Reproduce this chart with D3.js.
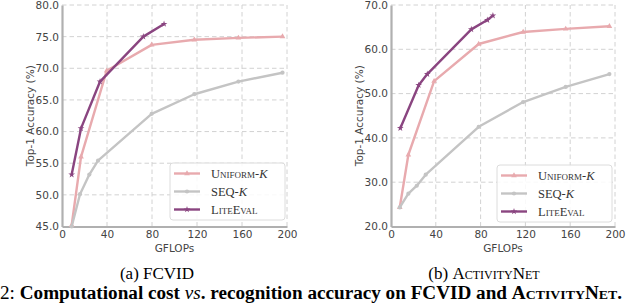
<!DOCTYPE html>
<html>
<head>
<meta charset="utf-8">
<script src="https://cdn.jsdelivr.net/npm/d3@7"></script>
<style>
  body { margin: 0; background: #fff; }
  svg { display: block; }
  .tick text { font-family: "DejaVu Sans", sans-serif; font-size: 10.5px; fill: #444; }
</style>
</head>
<body>
<div id="chart"></div>
<script>
// ---- data ----
const seriesNames = ["Uniform-K", "SEQ-K", "LiteEval"];

// FCVID
const fcvidUniformX = [8.6, 16.9, 39.7, 79.7, 117.6, 156.8, 196];
const fcvidUniformY = [45.2, 56.0, 69.6, 73.7, 74.5, 74.8, 75.0];
const fcvidSeqX = [8.6, 16, 24.3, 32, 79.7, 117.6, 156.8, 196];
const fcvidSeqY = [45.0, 50.1, 53.2, 55.4, 62.8, 65.9, 67.9, 69.3];
const fcvidLiteX = [8.6, 16.9, 33.8, 72.3, 90.7];
const fcvidLiteY = [53.2, 60.5, 67.9, 75.0, 77.0];

// ActivityNet
const anetUniformX = [7.8, 15.5, 38.5, 78.3, 118, 156, 195];
const anetUniformY = [24.3, 36.2, 52.8, 61.2, 63.9, 64.6, 65.2];
const anetSeqX = [7.8, 15.5, 23, 31, 78.3, 118, 156, 195];
const anetSeqY = [24.3, 27.4, 29.2, 31.7, 42.5, 48.1, 51.5, 54.4];
const anetLiteX = [8.3, 24.7, 32.4, 71.7, 86, 91];
const anetLiteY = [42.2, 51.9, 54.4, 64.5, 66.6, 67.6];

const xTicks = [0, 40, 80, 120, 160, 200];
const fcvidYTicks = [45, 50, 55, 60, 65, 70, 75, 80];
const anetYTicks = [20, 30, 40, 50, 60, 70];

const colors = { "Uniform-K": "#e8aaae", "SEQ-K": "#c4c4c4", "LiteEval": "#8a4580" };
const symbols = { "Uniform-K": d3.symbolTriangle, "SEQ-K": d3.symbolCircle, "LiteEval": d3.symbolStar };

const zip = (xs, ys) => xs.map((x, i) => ({ x: x, y: ys[i] }));

const svg = d3.select("#chart").append("svg")
    .attr("width", 640)
    .attr("height", 304);

function drawPanel(cfg) {
    const x = d3.scaleLinear().domain([0, 200]).range([cfg.left, cfg.right]);
    const y = d3.scaleLinear().domain(cfg.yDomain).range([226.5, 5]);
    const g = svg.append("g");

    // grid
    g.append("g").selectAll("line").data(xTicks.slice(1)).enter().append("line")
        .attr("x1", d => x(d)).attr("x2", d => x(d))
        .attr("y1", y.range()[0]).attr("y2", y.range()[1])
        .attr("stroke", "#d2d2d2").attr("stroke-dasharray", "4.5,3");
    g.append("g").selectAll("line").data(cfg.yTicks.slice(1)).enter().append("line")
        .attr("x1", x(0)).attr("x2", x(200))
        .attr("y1", d => y(d)).attr("y2", d => y(d))
        .attr("stroke", "#d2d2d2").attr("stroke-dasharray", "4.5,3");

    // axes
    const xAxis = g.append("g")
        .attr("transform", `translate(0,${y.range()[0]})`)
        .call(d3.axisBottom(x).tickValues(xTicks).tickSize(0).tickPadding(4));
    const yAxis = g.append("g")
        .attr("transform", `translate(${x(0)},0)`)
        .call(d3.axisLeft(y).tickValues(cfg.yTicks).tickFormat(d3.format(".1f")).tickSize(0).tickPadding(3));
    [xAxis, yAxis].forEach(a => a.select(".domain").attr("stroke", "#b0b0b0").attr("stroke-width", 2.2));

    g.append("text")
        .attr("x", (cfg.left + cfg.right) / 2).attr("y", 252)
        .attr("text-anchor", "middle")
        .style("font-family", "DejaVu Sans, sans-serif").style("font-size", "10.5px").attr("fill", "#444")
        .text("GFLOPs");
    g.append("text")
        .attr("transform", `translate(${cfg.left - 32},${(y.range()[0] + y.range()[1]) / 2}) rotate(-90)`)
        .attr("text-anchor", "middle").attr("dy", "0.35em")
        .style("font-family", "DejaVu Sans, sans-serif").style("font-size", "10.5px").attr("fill", "#444")
        .text("Top-1 Accuracy (%)");

    // series
    const line = d3.line().x(d => x(d.x)).y(d => y(d.y));
    cfg.series.forEach(s => {
        const pts = zip(s.xs, s.ys);
        g.append("path").datum(pts)
            .attr("fill", "none")
            .attr("stroke", colors[s.name])
            .attr("stroke-width", 2.4)
            .attr("stroke-linejoin", "round")
            .attr("d", line);
        g.append("g").selectAll("path").data(pts).enter().append("path")
            .attr("transform", d => `translate(${x(d.x)},${y(d.y)})`)
            .attr("d", d3.symbol().type(symbols[s.name]).size(14))
            .attr("fill", colors[s.name]);
    });

    // legend
    const lg = g.append("g").attr("transform", `translate(${cfg.legend[0]},${cfg.legend[1]})`);
    lg.append("rect")
        .attr("width", 115).attr("height", 57).attr("rx", 3)
        .attr("fill", "#fff").attr("fill-opacity", 0.85)
        .attr("stroke", "#dcdcdc");
    seriesNames.forEach((name, i) => {
        const ly = 10.5 + i * 18;
        lg.append("line")
            .attr("x1", 4).attr("x2", 30).attr("y1", ly).attr("y2", ly)
            .attr("stroke", colors[name]).attr("stroke-width", 2.4);
        lg.append("path")
            .attr("transform", `translate(17,${ly})`)
            .attr("d", d3.symbol().type(symbols[name]).size(14))
            .attr("fill", colors[name]);
        const t = lg.append("text")
            .attr("x", 41).attr("y", ly).attr("dy", "0.35em")
            .style("font-family", "Liberation Serif, serif").style("font-size", "12.5px").attr("fill", "#333");
        if (name === "Uniform-K") {
            t.append("tspan").style("font-variant", "small-caps").text("Uniform-");
            t.append("tspan").style("font-style", "italic").text("K");
        } else if (name === "SEQ-K") {
            t.append("tspan").text("SEQ-");
            t.append("tspan").style("font-style", "italic").text("K");
        } else {
            t.append("tspan").style("font-variant", "small-caps").text("LiteEval");
        }
    });
}

drawPanel({
    left: 62, right: 287, yDomain: [45, 80], yTicks: fcvidYTicks, legend: [170, 163],
    series: [
        { name: "Uniform-K", xs: fcvidUniformX, ys: fcvidUniformY },
        { name: "SEQ-K", xs: fcvidSeqX, ys: fcvidSeqY },
        { name: "LiteEval", xs: fcvidLiteX, ys: fcvidLiteY }
    ]
});
drawPanel({
    left: 391, right: 615, yDomain: [20, 70], yTicks: anetYTicks, legend: [497, 165],
    series: [
        { name: "Uniform-K", xs: anetUniformX, ys: anetUniformY },
        { name: "SEQ-K", xs: anetSeqX, ys: anetSeqY },
        { name: "LiteEval", xs: anetLiteX, ys: anetLiteY }
    ]
});

// captions
const serif = "Liberation Serif, Times New Roman, serif";
svg.append("text").attr("x", 157).attr("y", 279).attr("text-anchor", "middle")
    .style("font-family", serif).style("font-size", "17px").text("(a) FCVID");
const cb = svg.append("text").attr("x", 484).attr("y", 279).attr("text-anchor", "middle")
    .style("font-family", serif).style("font-size", "17px");
cb.append("tspan").text("(b) ");
cb.append("tspan").style("font-variant", "small-caps").text("ActivityNet");

const cap = svg.append("text").attr("x", 0).attr("y", 299)
    .attr("textLength", 622).attr("lengthAdjust", "spacingAndGlyphs")
    .style("font-family", serif).style("font-size", "18px").style("font-weight", "bold");
cap.append("tspan").style("font-weight", "normal").text("2: ");
cap.append("tspan").text("Computational cost ");
cap.append("tspan").style("font-style", "italic").style("font-weight", "normal").text("vs");
cap.append("tspan").text(". recognition accuracy on FCVID and ");
cap.append("tspan").style("font-variant", "small-caps").text("ActivityNet.");
</script>
</body>
</html>
